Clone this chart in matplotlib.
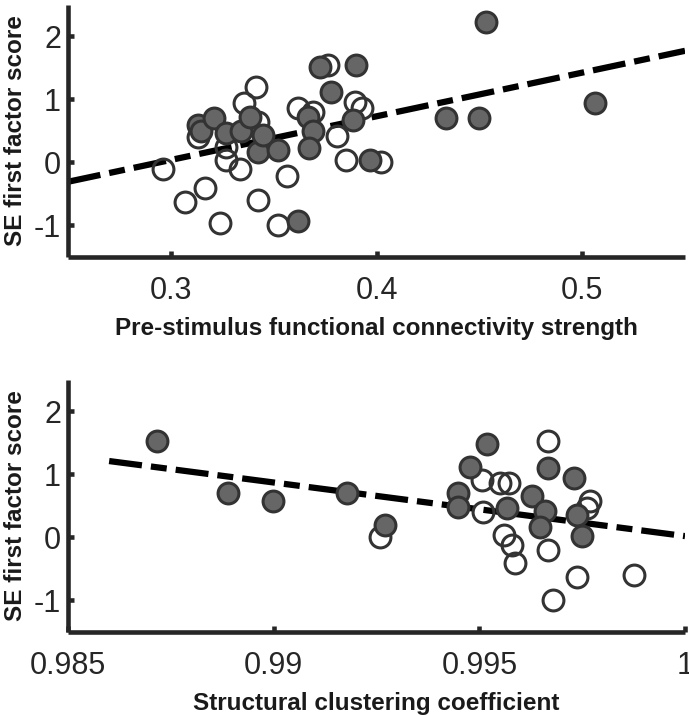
import matplotlib
matplotlib.use("Agg")
import matplotlib.pyplot as plt

plt.rcParams['font.family'] = ['Liberation Sans', 'DejaVu Sans']
plt.rcParams['axes.unicode_minus'] = False
plt.rcParams['lines.scale_dashes'] = False

# top panel: pre-stimulus functional connectivity strength vs SE score
fc_filled_x = [0.3130, 0.3147, 0.3212, 0.3270, 0.3343, 0.3384, 0.3424, 0.3449,
               0.3522, 0.3620, 0.3669, 0.3693, 0.3672, 0.3725, 0.3777, 0.3899,
               0.3888, 0.3970, 0.4336, 0.4499, 0.4532, 0.5060]
fc_filled_y = [0.59, 0.50, 0.70, 0.46, 0.49, 0.72, 0.17, 0.43,
               0.20, -0.93, 0.72, 0.50, 0.23, 1.51, 1.12, 1.54,
               0.68, 0.03, 0.70, 0.70, 2.23, 0.94]
fc_open_x = [0.2960, 0.3069, 0.3166, 0.3240, 0.3131, 0.3270, 0.3270, 0.3338,
             0.3358, 0.3415, 0.3424, 0.3424, 0.3522, 0.3563, 0.3620, 0.3693,
             0.3766, 0.3807, 0.3850, 0.3897, 0.3929, 0.4022]
fc_open_y = [-0.11, -0.63, -0.40, -0.97, 0.40, 0.25, 0.04, -0.11,
             0.94, 1.19, 0.64, -0.59, -1.00, -0.21, 0.87, 0.80,
             1.54, 0.42, 0.04, 0.95, 0.87, 0.01]
fc_fit = (6.93, -2.041)        # slope, intercept
fc_fit_range = (0.25, 0.55)

# bottom panel: structural clustering coefficient vs SE score
cc_filled_x = [0.98717, 0.98890, 0.98999, 0.99178, 0.99270, 0.99518, 0.99477,
               0.99449, 0.99449, 0.99567, 0.99668, 0.99729, 0.99628, 0.99660,
               0.99648, 0.99737, 0.99750]
cc_filled_y = [1.53, 0.70, 0.58, 0.70, 0.20, 1.49, 1.12,
               0.70, 0.48, 0.46, 1.10, 0.94, 0.66, 0.42,
               0.17, 0.35, 0.02]
cc_open_x = [0.99258, 0.99668, 0.99506, 0.99550, 0.99571, 0.99510, 0.99559,
             0.99579, 0.99587, 0.99668, 0.99770, 0.99762, 0.99737, 0.99876,
             0.99679]
cc_open_y = [0.01, 1.53, 0.91, 0.86, 0.86, 0.41, 0.04,
             -0.12, -0.41, -0.20, 0.57, 0.46, -0.63, -0.60,
             -1.00]
cc_fit = (-85.1, 85.12)
cc_fit_range = (0.986, 1.0)

y_ticks = [-1, 0, 1, 2]
fc_ticks = [0.3, 0.4, 0.5]
fc_ticklabels = ['0.3', '0.4', '0.5']
cc_ticks = [0.985, 0.99, 0.995, 1.0]
cc_ticklabels = ['0.985', '0.99', '0.995', '1']

AX_COLOR = '#262626'
FILL = '#666666'
EDGE = '#333333'


def draw_panel(ax, fx, fy, ox, oy, fit, fit_range, xlim, xticks, xticklabels, xlabel):
    slope, icpt = fit
    lx = list(fit_range)
    ly = [slope * v + icpt for v in lx]
    ax.plot(lx, ly, color='black', lw=4.5, dashes=(23.8, 6.5, 11.5, 6.5),
            solid_capstyle='butt', dash_capstyle='butt', zorder=1)
    ax.plot(ox, oy, 'o', ms=15, mfc='none', mec=EDGE, mew=2.2, zorder=2,
            linestyle='none')
    ax.plot(fx, fy, 'o', ms=15, mfc=FILL, mec=EDGE, mew=2.2, zorder=3,
            linestyle='none')

    ax.set_xlim(*xlim)
    ax.set_ylim(-1.5, 2.5)
    ax.set_xticks(xticks)
    ax.set_xticklabels(xticklabels)
    ax.set_yticks(y_ticks)
    ax.set_yticklabels([str(v) for v in y_ticks])

    for side in ['top', 'right']:
        ax.spines[side].set_visible(False)
    for side in ['left', 'bottom']:
        ax.spines[side].set_linewidth(3.3)
        ax.spines[side].set_color(AX_COLOR)
        ax.spines[side].set_capstyle('butt')
    ax.tick_params(direction='in', length=4.5, width=3.3, color=AX_COLOR,
                   labelsize=22, labelcolor=AX_COLOR)
    ax.tick_params(axis='x', pad=14)
    ax.tick_params(axis='y', pad=5)
    ax.set_xlabel(xlabel, fontsize=17.5, fontweight='bold', color='#1a1a1a',
                  labelpad=8)
    ax.set_ylabel('SE first factor score', fontsize=17.5, fontweight='bold',
                  color='#1a1a1a', labelpad=5)
    ax.patch.set_visible(False)


fig = plt.figure(figsize=(6.89, 7.15), dpi=100)
ax1 = fig.add_axes([0.0987, 0.6408, 0.8955, 0.3524])
ax2 = fig.add_axes([0.0987, 0.1163, 0.8955, 0.3524])

draw_panel(ax1, fc_filled_x, fc_filled_y, fc_open_x, fc_open_y, fc_fit,
           fc_fit_range, (0.25, 0.55), fc_ticks, fc_ticklabels,
           'Pre-stimulus functional connectivity strength')
draw_panel(ax2, cc_filled_x, cc_filled_y, cc_open_x, cc_open_y, cc_fit,
           cc_fit_range, (0.985, 1.0), cc_ticks, cc_ticklabels,
           'Structural clustering coefficient')

fig.savefig('out.png', dpi=100)
